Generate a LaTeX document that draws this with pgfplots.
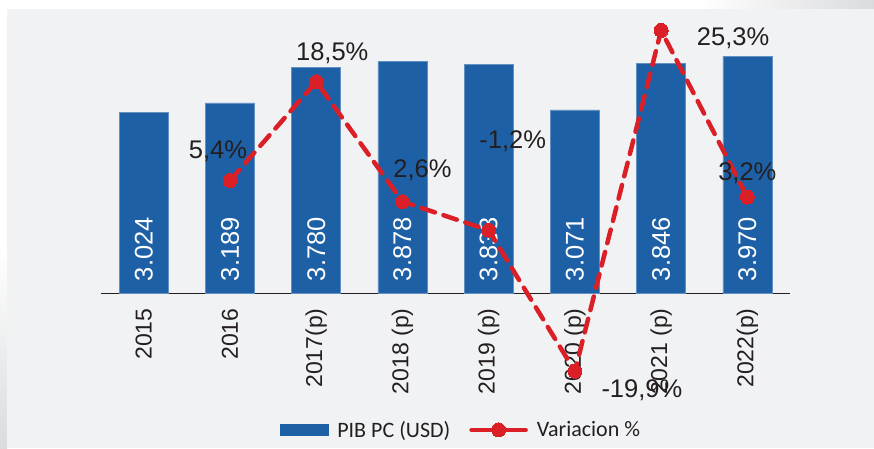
\documentclass[border=0pt]{standalone}
\usepackage{pgfplots}
\pgfplotsset{compat=1.18}
\usepackage{pgfplotstable}
\usepackage{fontspec}
\setmainfont{Liberation Sans}
\newfontfamily\legfont{Carlito}

\definecolor{barblue}{RGB}{30,96,166}
\definecolor{varred}{RGB}{218,31,38}
\definecolor{panel}{RGB}{241,242,244}
\definecolor{strip}{RGB}{218,219,221}
\definecolor{txt}{RGB}{35,31,32}

% PIB per capita (USD)
\pgfplotstableread{
x pib
0 3024
1 3189
2 3780
3 3878
4 3833
5 3071
6 3846
7 3970
}\pibdata

% variacion %, with label offsets (pt)
\pgfplotstableread{
x var dx dy
1 5.4 -12 22
2 18.5 16 21
3 2.6 20 24
4 -1.2 24 82
5 -19.9 67 -26
6 25.3 72 -15.5
7 3.2 0 17
}\vardata

\pgfplotsset{
  chartframe/.style={
    at={(101pt,154.7pt)}, anchor=south west,
    scale only axis, width=689pt, height=273.3pt,
    xmin=-0.4965, xmax=7.495,
  },
  varlegend/.style={
    legend image code/.code={
      \draw[##1, solid] (0pt,0pt) -- (54pt,0pt);
      \draw[##1, solid] plot coordinates {(27pt,0pt)};
    },
  },
}

\begin{document}
\begin{tikzpicture}
  % background
  \fill[white] (0pt,0pt) rectangle (874pt,448pt);
  \shade[left color=white, right color=strip] (700pt,439pt) rectangle (874pt,448pt);
  \shade[top color=white, bottom color=strip] (0pt,0pt) rectangle (7pt,200pt);
  \fill[panel] (7pt,0pt) rectangle (874pt,439pt);

  \begin{axis}[
      chartframe,
      ymin=0, ymax=4577.8,
      axis y line=none,
      axis x line*=bottom,
      x axis line style={draw=txt, line width=1.5pt, -},
      xtick={0,...,7},
      xticklabels={2015,2016,2017(p),2018 (p),2019 (p),2020 (p),2021 (p),2022(p)},
      major tick length=0pt,
      xticklabel shift=15pt,
      xticklabel style={rotate=90, anchor=east, inner sep=0pt,
        font=\fontsize{23}{26}\selectfont, text=txt},
    ]
    \addplot[ybar, bar width=49pt, bar shift=0pt, fill=barblue,
      draw=barblue!70!white, line width=0.6pt]
      table[x=x, y=pib] {\pibdata};
    \addplot[draw=none,
      point meta=\thisrow{pib},
      nodes near coords={\pgfmathprintnumber[1000 sep={.}, assume math mode=true]{\pgfplotspointmeta}},
      nodes near coords style={rotate=90, anchor=west, inner xsep=12pt, inner ysep=0pt,
        text=white, font=\fontsize{25.5}{28}\selectfont}]
      table[x=x, y expr=0] {\pibdata};
  \end{axis}

  \begin{axis}[
      chartframe,
      ymin=-9.562, ymax=26.684,
      hide axis,
      clip=false,
      legend columns=2,
      legend style={at={(0.5225,-0.5)}, anchor=center, draw=none, fill=none,
        font=\legfont\fontsize{22}{24}\selectfont, text=txt,
        /tikz/every odd column/.append style={column sep=7pt},
        /tikz/every even column/.append style={column sep=17pt}},
    ]
    \addlegendimage{legend image code/.code={\fill[barblue] (0pt,-5.5pt) rectangle (48pt,5.5pt);}}
    \addlegendentry{PIB PC (USD)}
    \addplot[varred, line width=4.5pt, dash pattern=on 14pt off 9pt, line cap=round,
      mark=*, mark size=7pt, mark options={solid, fill=varred, draw=varred, line width=0pt},
      varlegend,
      point meta=y,
      visualization depends on={\thisrow{dx} \as \dx},
      visualization depends on={\thisrow{dy} \as \dy},
      nodes near coords={\pgfmathprintnumber[fixed, fixed zerofill, precision=1, use comma, assume math mode=true]{\pgfplotspointmeta}\%},
      nodes near coords style={anchor=base, xshift=\dx pt, yshift=\dy pt, inner sep=0pt,
        text=txt, font=\fontsize{25.5}{28}\selectfont}]
      table[x=x, y=var] {\vardata};
    \addlegendentry{Variacion \%}
  \end{axis}

  \pgfresetboundingbox
  \useasboundingbox (0pt,0pt) rectangle (874pt,448pt);
\end{tikzpicture}
\end{document}
